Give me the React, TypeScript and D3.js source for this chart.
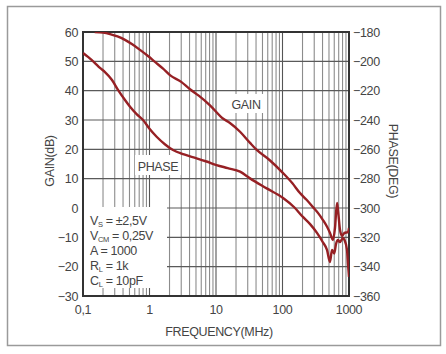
import React from "react";
import * as d3 from "d3";

const gainFreq = [0.15, 0.2, 0.255, 0.33, 0.428, 0.55, 0.72, 0.95, 1.21, 1.6, 2.03, 3, 4.06, 5.5, 8.12, 12.7, 16.2, 23, 32.5, 41, 65, 102, 140, 183, 230, 287, 350, 406, 470, 518, 575, 616, 660, 683, 733, 786, 855, 966, 1000];
const gainDb = [60, 59.8, 59.3, 58.5, 57.3, 55.8, 53.9, 51.8, 49.8, 47.5, 45.3, 43, 40.5, 38.3, 35, 30.5, 29, 26, 22.2, 19.8, 16.2, 11.9, 8.5, 5.1, 2.8, 0.3, -2, -4.1, -6.5, -8.5, -10.9, -6.8, 1.7, -0.7, -7.5, -9.5, -8.5, -8.2, -6.8];

const phaseFreq = [0.1, 0.119, 0.15, 0.18, 0.214, 0.273, 0.336, 0.428, 0.51, 0.64, 0.8, 1.0, 1.28, 1.7, 2.26, 3.3, 5.1, 7.2, 10.2, 15, 23, 32.5, 57.8, 102, 150, 203, 260, 330, 400, 467, 518, 555, 600, 638, 683, 730, 810, 855, 933, 966, 1000];
const phaseDeg = [-194.3, -197, -201, -204.5, -207.3, -212.7, -219.5, -226.4, -231, -236, -240, -246, -251.4, -256.5, -260.5, -263.5, -266.1, -268.3, -270.7, -272.8, -275.2, -279.8, -286.6, -293.2, -299.5, -306.1, -311, -317, -323, -328.6, -336.8, -328.6, -331, -324.5, -321.8, -323.2, -320.4, -321.8, -328.6, -338.2, -347];

const leftTicks = [60, 50, 40, 30, 20, 10, 0, -10, -20, -30];
const rightTicks = [-180, -200, -220, -240, -260, -280, -300, -320, -340, -360];
const xTicks = [0.1, 1, 10, 100, 1000];
const xTickLabels = ["0,1", "1", "10", "100", "1000"];

const W = 446, H = 354;
const X0 = 83, X1 = 349, Y0 = 32, Y1 = 296;
const RED = "#962024";
const FONT = "'Liberation Sans', Arial, sans-serif";
const TXT = "#444";
const LS = -0.35;
const fmt = (v: number) => (v < 0 ? "\u2212" + Math.abs(v) : String(v));

export default function App() {
  const x = d3.scaleLog().domain([0.1, 1000]).range([X0, X1]);
  const yG = d3.scaleLinear().domain([-30, 60]).range([Y1, Y0]);
  const yP = d3.scaleLinear().domain([-360, -180]).range([Y1, Y0]);

  const minor: number[] = [];
  for (const dec of [0.1, 1, 10, 100]) for (let k = 2; k <= 9; k++) minor.push(dec * k);

  const gainLine = d3.line<number>().x((_, i) => x(gainFreq[i])).y((d) => yG(d)).curve(d3.curveMonotoneX)(gainDb) || "";
  const phaseLine = d3.line<number>().x((_, i) => x(phaseFreq[i])).y((d) => yP(d)).curve(d3.curveMonotoneX)(phaseDeg) || "";

  const sub = (main: string, s: string, rest: string, yy: number) => (
    <text x={90} y={yy} fontSize={12.5} fill={TXT} fontFamily={FONT} letterSpacing={LS}>
      {main}
      <tspan fontSize={7.5} dy={2}>{s}</tspan>
      <tspan dy={-2}>{rest}</tspan>
    </text>
  );

  return (
    <svg width={W} height={H} style={{ position: "absolute", left: 0, top: 0, background: "#fff" }}>
      <rect x={7.5} y={6.5} width={433} height={339} fill="#fff" stroke="#9a9a9a" strokeWidth={1.5} />
      <defs>
        <clipPath id="plot">
          <rect x={X0} y={Y0} width={X1 - X0} height={Y1 - Y0} />
        </clipPath>
      </defs>
      {minor.map((f, i) => (
        <line key={"m" + i} x1={x(f)} x2={x(f)} y1={Y0} y2={Y1} stroke="#8c8c8c" strokeWidth={1.1} />
      ))}
      {xTicks.map((f, i) => (
        <line key={"M" + i} x1={x(f)} x2={x(f)} y1={Y0} y2={Y1} stroke="#555" strokeWidth={1.1} />
      ))}
      {leftTicks.map((v, i) => (
        <line key={"h" + i} x1={X0} x2={X1} y1={yG(v)} y2={yG(v)} stroke="#5a5a5a" strokeWidth={1.1} />
      ))}
      <rect x={X0 + 1} y={207} width={166 - X0} height={288 - 207} fill="#fff" />
      <rect x={229} y={94} width={35} height={19} fill="#fff" />
      <rect x={135} y={155} width={46} height={20} fill="#fff" />
      <rect x={X0} y={Y0} width={X1 - X0} height={Y1 - Y0} fill="none" stroke="#333" strokeWidth={2} />
      <g clipPath="url(#plot)">
        <path d={gainLine} fill="none" stroke={RED} strokeWidth={2.4} strokeLinejoin="round" />
        <path d={phaseLine} fill="none" stroke={RED} strokeWidth={2.4} strokeLinejoin="round" />
      </g>
      <g fontFamily={FONT} fontSize={12.5} fill={TXT} letterSpacing={LS}>
        {leftTicks.map((v, i) => (
          <text key={"lt" + i} x={78} y={yG(v) + 4.5} textAnchor="end">{fmt(v)}</text>
        ))}
        {rightTicks.map((v, i) => (
          <text key={"rt" + i} x={353} y={yP(v) + 4.5} textAnchor="start">{fmt(v)}</text>
        ))}
        {xTicks.map((f, i) => (
          <text key={"xt" + i} x={x(f)} y={314} textAnchor="middle">{xTickLabels[i]}</text>
        ))}
        <text x={219} y={336} textAnchor="middle">FREQUENCY(MHz)</text>
        <text transform={`translate(54,161) rotate(-90)`} textAnchor="middle">GAIN(dB)</text>
        <text transform={`translate(389,161) rotate(90)`} textAnchor="middle">PHASE(DEG)</text>
        <text x={246} y={109} textAnchor="middle">GAIN</text>
        <text x={158} y={171} textAnchor="middle">PHASE</text>
      </g>
      {sub("V", "S", " = \u00b12,5V", 225)}
      {sub("V", "CM", " = 0,25V", 240)}
      <text x={90} y={255} fontSize={12.5} fill={TXT} fontFamily={FONT} letterSpacing={LS}>A = 1000</text>
      {sub("R", "L", " = 1k", 270)}
      {sub("C", "L", " = 10pF", 285)}
    </svg>
  );
}
